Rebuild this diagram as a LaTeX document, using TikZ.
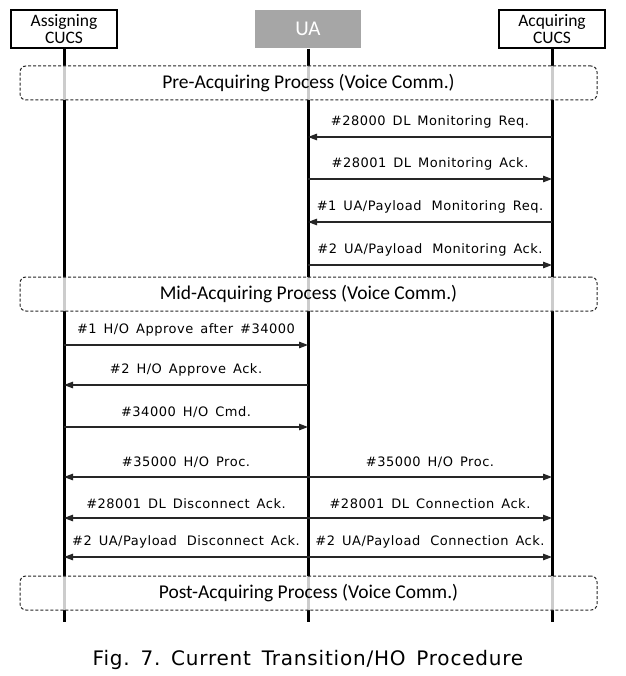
\documentclass[tikz,border=0pt]{standalone}
\usepackage{fontspec}
\setmainfont{DejaVu Sans}
\newfontfamily\boxfont{Carlito}
\newfontfamily\msgfont{DejaVu Sans}[LetterSpace=4, WordSpace=1.5]
\usetikzlibrary{arrows.meta,positioning}

\begin{document}
\begin{tikzpicture}[x=1pt, y=-1pt,
    actor/.style={draw, line width=1.4pt, minimum width=106pt, minimum height=38pt, inner sep=0pt, align=center, font=\boxfont\fontsize{17.5}{17}\selectfont},
    life/.style={line width=3pt},
    phase/.style={draw=black!85, line width=1pt, dash pattern=on 3pt off 2pt, rounded corners=6pt, fill=white, fill opacity=0.8, text opacity=1, minimum width=577pt, minimum height=34pt, font=\boxfont\fontsize{19.5}{19.5}\selectfont},
    msg/.style={line width=1.2pt, draw=black!85, -{Triangle[length=9pt,width=6.5pt]}},
    lbl/.style={above=5pt, text=black, font=\msgfont\fontsize{13}{13}\selectfont}]
    % Canvas
    \fill[white] (0,0) rectangle (625,676);
    \useasboundingbox (0,0) rectangle (625,676);
    % Lifeline heads
    \node[actor] (assign) at (64,29) {Assigning\\CUCS};
    \node[actor, draw=none, fill=black!35, text=white, font=\boxfont\fontsize{21}{21}\selectfont] (ua) at (308,29) {UA};
    \node[actor] (acq) at (552,29) {Acquiring\\CUCS};
    % Lifelines
    \coordinate (bottom) at (0,622);
    \draw[life] (assign) -- (assign |- bottom);
    \draw[life] (ua) -- (ua |- bottom);
    \draw[life] (acq) -- (acq |- bottom);
    % Phases
    \node[phase] (pre) at (308.5,83) {Pre-Acquiring Process (Voice Comm.)};
    \node[phase] (mid) at (308.5,294) {Mid-Acquiring Process (Voice Comm.)};
    \node[phase] (post) at (308.5,593) {Post-Acquiring Process (Voice Comm.)};
    % Pre-acquiring messages
    \coordinate (m1) at (0,137);
    \coordinate (m2) at (0,179);
    \coordinate (m3) at (0,222);
    \coordinate (m4) at (0,265);
    \draw[msg] (acq |- m1) -- (ua |- m1) node[lbl, midway] {\#28000 DL Monitoring Req.};
    \draw[msg] (ua |- m2) -- (acq |- m2) node[lbl, midway] {\#28001 DL Monitoring Ack.};
    \draw[msg] (acq |- m3) -- (ua |- m3) node[lbl, midway] {\#1 UA/Payload\hspace{3pt} Monitoring Req.};
    \draw[msg] (ua |- m4) -- (acq |- m4) node[lbl, midway] {\#2 UA/Payload\hspace{3pt} Monitoring Ack.};
    % Hand-over messages
    \coordinate (h1) at (0,345);
    \coordinate (h2) at (0,385);
    \coordinate (h3) at (0,427);
    \coordinate (h4) at (0,477);
    \coordinate (h5) at (0,518);
    \coordinate (h6) at (0,557);
    \draw[msg] (assign |- h1) -- (ua |- h1) node[lbl, midway] {\#1 H/O Approve after \#34000};
    \draw[msg] (ua |- h2) -- (assign |- h2) node[lbl, midway] {\#2 H/O Approve Ack.};
    \draw[msg] (assign |- h3) -- (ua |- h3) node[lbl, midway] {\#34000 H/O Cmd.};
    \draw[msg] (ua |- h4) -- (assign |- h4) node[lbl, midway] {\#35000 H/O Proc.};
    \draw[msg] (ua |- h4) -- (acq |- h4) node[lbl, midway] {\#35000 H/O Proc.};
    \draw[msg] (ua |- h5) -- (assign |- h5) node[lbl, midway] {\#28001 DL Disconnect Ack.};
    \draw[msg] (ua |- h5) -- (acq |- h5) node[lbl, midway] {\#28001 DL Connection Ack.};
    \draw[msg] (ua |- h6) -- (assign |- h6) node[lbl, midway] {\#2 UA/Payload\hspace{3pt} Disconnect Ack.};
    \draw[msg] (ua |- h6) -- (acq |- h6) node[lbl, midway] {\#2 UA/Payload\hspace{3pt} Connection Ack.};
    % Caption
    \node[font=\msgfont\fontsize{20}{20}\selectfont] (caption) at (308,660) {Fig.\ 7.\ Current Transition/HO Procedure};
\end{tikzpicture}
\end{document}
